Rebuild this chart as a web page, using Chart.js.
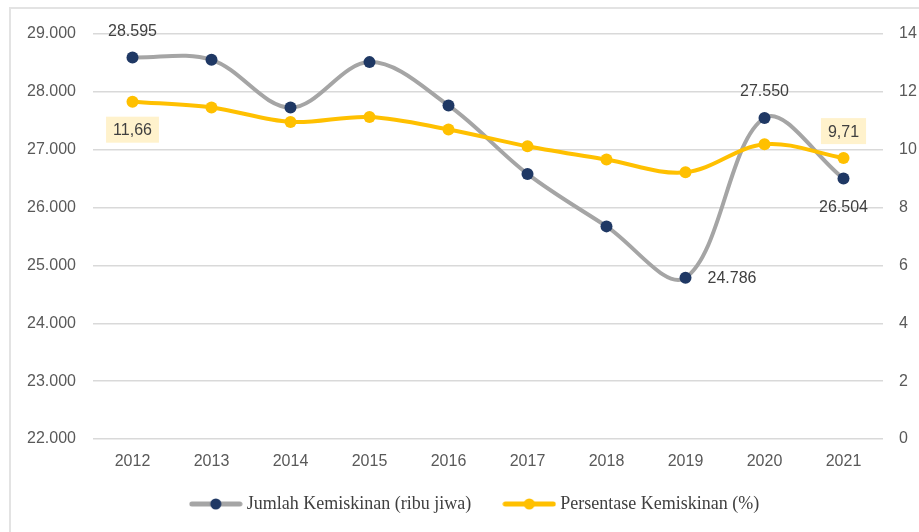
<!DOCTYPE html>
<html>
<head>
<meta charset="utf-8">
<script src="https://cdn.jsdelivr.net/npm/chart.js@4.4.0/dist/chart.umd.min.js"></script>
<style>
  html, body { margin: 0; padding: 0; background: #fff; overflow: hidden; }
  #wrap { position: absolute; left: 0; top: 0; width: 919px; height: 532px; }
  #frame { position: absolute; left: 9px; top: 7px; width: 930px; height: 540px; border: 2px solid #e3e3e3; pointer-events: none; }
</style>
</head>
<body>
<div id="wrap"><canvas id="chart" width="919" height="532"></canvas></div>
<div id="frame"></div>
<script>
// ---- data ----
const years = ["2012", "2013", "2014", "2015", "2016", "2017", "2018", "2019", "2020", "2021"];
const jumlahMiskin = [28595, 28553, 27728, 28514, 27765, 26582, 25675, 24786, 27550, 26504];
const persenMiskin = [11.66, 11.46, 10.96, 11.13, 10.70, 10.12, 9.66, 9.22, 10.19, 9.71];
const seriesNames = ["Jumlah Kemiskinan (ribu jiwa)", "Persentase Kemiskinan (%)"];
const leftTicks = [22000, 23000, 24000, 25000, 26000, 27000, 28000, 29000];
const rightTicks = [0, 2, 4, 6, 8, 10, 12, 14];

// which points carry a value label
const jumlahLabelled = [0, 7, 8, 9];
const persenLabelled = [0, 9];

const GRAY = "#a5a5a5";
const NAVY = "#1f3864";
const GOLD = "#ffc000";
const TEXT = "#404040";
const TICK_FONT = { family: "'Liberation Sans', sans-serif", size: 16 };
const LEGEND_GAP = 36;
const LEGEND_HEIGHT = 43;

// indonesian number format: 28595 -> 28.595, 11.66 -> 11,66
function fmtThousand(v) {
  return String(Math.round(v)).replace(/\B(?=(\d{3})+(?!\d))/g, ".");
}
function fmtDecimal(v) {
  return v.toFixed(2).replace(".", ",");
}

// legend symbol: line with a dot in the middle
function legendSymbol(lineColor, dotColor) {
  const c = document.createElement("canvas");
  c.width = 54; c.height = 14;
  const g = c.getContext("2d");
  g.strokeStyle = lineColor;
  g.lineWidth = 5;
  g.lineCap = "round";
  g.beginPath(); g.moveTo(3, 7); g.lineTo(51, 7); g.stroke();
  g.fillStyle = dotColor;
  g.beginPath(); g.arc(27, 7, 5.5, 0, Math.PI * 2); g.fill();
  return c;
}

// ---- value labels ----
const valueLabels = {
  id: "valueLabels",
  afterDatasetsDraw(chart) {
    const ctx = chart.ctx;
    ctx.save();
    ctx.font = "16px 'Liberation Sans', sans-serif";
    ctx.fillStyle = TEXT;
    ctx.textBaseline = "middle";

    const m0 = chart.getDatasetMeta(0).data;
    jumlahLabelled.forEach(i => {
      const p = m0[i];
      const txt = fmtThousand(jumlahMiskin[i]);
      if (i === 7) {
        ctx.textAlign = "left";
        ctx.fillText(txt, p.x + 22, p.y + 1);
      } else if (i === 9) {
        ctx.textAlign = "center";
        ctx.fillText(txt, p.x, p.y + 29);
      } else {
        ctx.textAlign = "center";
        ctx.fillText(txt, p.x, p.y - 26);
      }
    });

    const m1 = chart.getDatasetMeta(1).data;
    persenLabelled.forEach(i => {
      const p = m1[i];
      const txt = fmtDecimal(persenMiskin[i]);
      const cy = i === 0 ? p.y + 28 : p.y - 27;
      const w = ctx.measureText(txt).width + 14;
      ctx.fillStyle = "#fff2cc";
      ctx.fillRect(p.x - w / 2, cy - 13, w, 26);
      ctx.fillStyle = TEXT;
      ctx.textAlign = "center";
      ctx.fillText(txt, p.x, cy + 1);
    });
    ctx.restore();
  }
};

// legend: wide gap between the two items, but keep it short in height,
// and nudge it a little to the right, as in the original
const legendTweak = {
  id: "legendTweak",
  afterInit(chart) {
    const lg = chart.legend;
    const fit = lg.fit.bind(lg);
    lg.fit = function () {
      fit();
      this.height = LEGEND_HEIGHT;
    };
  },
  afterLayout(chart) {
    const lg = chart.legend;
    lg.left += 17;
    lg.right += 17;
    lg.top -= (LEGEND_GAP - 14);
  }
};

const ctx = document.getElementById("chart").getContext("2d");

new Chart(ctx, {
  type: "line",
  data: {
    labels: years,
    datasets: [
      {
        label: seriesNames[0],
        data: jumlahMiskin,
        yAxisID: "y",
        borderColor: GRAY,
        borderWidth: 4,
        tension: 0.35,
        pointRadius: 6,
        pointBackgroundColor: NAVY,
        pointBorderColor: NAVY,
        pointBorderWidth: 0,
        order: 1
      },
      {
        label: seriesNames[1],
        data: persenMiskin,
        yAxisID: "y1",
        borderColor: GOLD,
        borderWidth: 4,
        tension: 0.35,
        pointRadius: 6,
        pointBackgroundColor: GOLD,
        pointBorderColor: GOLD,
        pointBorderWidth: 0,
        order: 0
      }
    ]
  },
  options: {
    responsive: false,
    animation: false,
    layout: { padding: { top: 34, left: 0, right: 0, bottom: 8 } },
    scales: {
      x: {
        offset: true,
        grid: { display: false, drawTicks: false },
        border: { display: false },
        ticks: { color: "#595959", font: TICK_FONT, padding: 13 },
        afterFit(s) { s.height = 42; }
      },
      y: {
        position: "left",
        min: 22000,
        max: 29000,
        afterBuildTicks(s) { s.ticks = leftTicks.map(v => ({ value: v })); },
        grid: { color: "#d9d9d9", lineWidth: 1.5, drawTicks: false },
        border: { display: false },
        ticks: {
          color: "#595959",
          font: TICK_FONT,
          padding: 17,
          callback: v => fmtThousand(v)
        },
        afterFit(s) { s.width = 93; }
      },
      y1: {
        position: "right",
        min: 0,
        max: 14,
        afterBuildTicks(s) { s.ticks = rightTicks.map(v => ({ value: v })); },
        grid: { display: false, drawTicks: false },
        border: { display: false },
        ticks: { color: "#595959", font: TICK_FONT, padding: 16 },
        afterFit(s) { s.width = 36; }
      }
    },
    plugins: {
      legend: {
        position: "bottom",
        labels: {
          usePointStyle: true,
          pointStyleWidth: 44,
          padding: LEGEND_GAP,
          color: TEXT,
          font: { family: "'Liberation Serif', serif", size: 18 },
          generateLabels(chart) {
            return chart.data.datasets.map((ds, i) => ({
              text: ds.label,
              datasetIndex: i,
              fontColor: TEXT,
              pointStyle: i === 0 ? legendSymbol(GRAY, NAVY) : legendSymbol(GOLD, GOLD),
              lineWidth: 0,
              strokeStyle: "transparent",
              fillStyle: "transparent",
              hidden: false
            }));
          }
        }
      },
      tooltip: { enabled: false }
    }
  },
  plugins: [valueLabels, legendTweak]
});
</script>
</body>
</html>
